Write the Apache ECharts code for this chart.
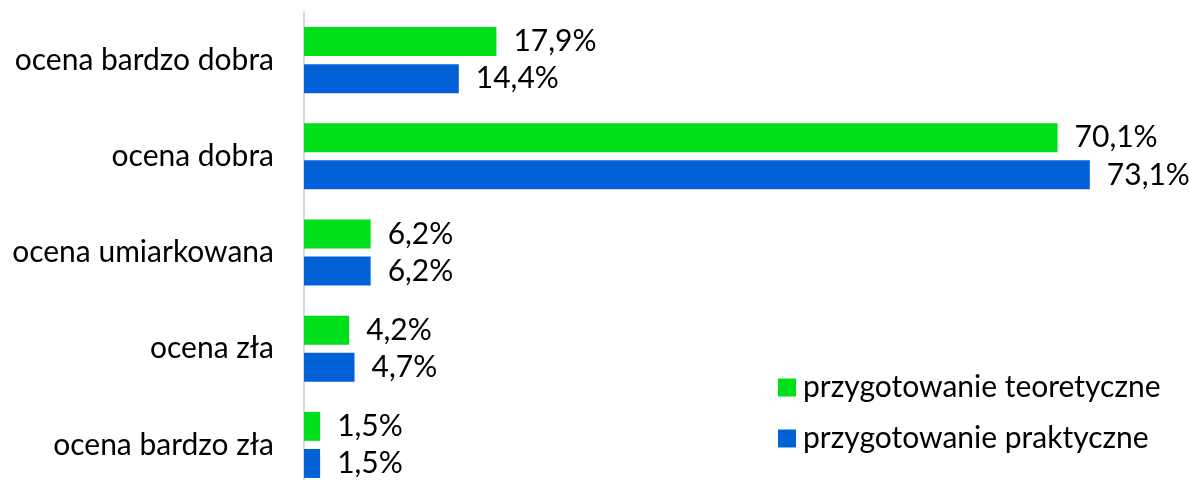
<!DOCTYPE html>
<html>
<head>
<meta charset="utf-8">
<script src="https://cdn.jsdelivr.net/npm/echarts@6/dist/echarts.min.js"></script>
<style>
  html, body { margin: 0; padding: 0; background: #fff; }
  #chart { width: 1189px; height: 480px; }
</style>
</head>
<body>
<div id="chart"></div>
<script>
var categories = ['ocena bardzo dobra', 'ocena dobra', 'ocena umiarkowana', 'ocena zła', 'ocena bardzo zła'];
var seriesNames = ['przygotowanie teoretyczne', 'przygotowanie praktyczne'];
var teoretyczne = [17.9, 70.1, 6.2, 4.2, 1.5];
var praktyczne = [14.4, 73.1, 6.2, 4.7, 1.5];

var chart = echarts.init(document.getElementById('chart'));
var font = 'Lato, "Open Sans", sans-serif';

var valueLabel = {
    show: true,
    position: 'right',
    distance: 17,
    color: '#000',
    fontFamily: font,
    fontSize: 30,
    formatter: function (p) {
        return p.value.toFixed(1).replace('.', ',') + '%';
    }
};

chart.setOption({
    backgroundColor: '#fff',
    animation: false,
    legend: {
        orient: 'vertical',
        left: 773,
        top: 367,
        itemWidth: 18,
        itemHeight: 18,
        itemGap: 20,
        icon: 'rect',
        textStyle: {
            color: '#000',
            fontFamily: font,
            fontSize: 30,
            lineHeight: 31,
            padding: [0, 0, 0, 2]
        },
        data: seriesNames
    },
    grid: {
        left: 304,
        top: 12,
        width: 860,
        height: 481,
        outerBoundsMode: 'none'
    },
    xAxis: {
        type: 'value',
        min: 0,
        max: 80,
        show: false
    },
    yAxis: {
        type: 'category',
        inverse: true,
        data: categories,
        axisLine: { lineStyle: { color: '#d9d9d9', width: 2 } },
        axisTick: { show: false },
        axisLabel: {
            color: '#000',
            fontFamily: font,
            fontSize: 30,
            margin: 30
        }
    },
    series: [
        {
            name: seriesNames[0],
            type: 'bar',
            data: teoretyczne,
            barWidth: 29,
            barGap: '28%',
            itemStyle: { color: '#00e01a' },
            label: valueLabel
        },
        {
            name: seriesNames[1],
            type: 'bar',
            data: praktyczne,
            barWidth: 29,
            barGap: '28%',
            itemStyle: { color: '#0062d6' },
            label: valueLabel
        }
    ]
});
</script>
</body>
</html>
